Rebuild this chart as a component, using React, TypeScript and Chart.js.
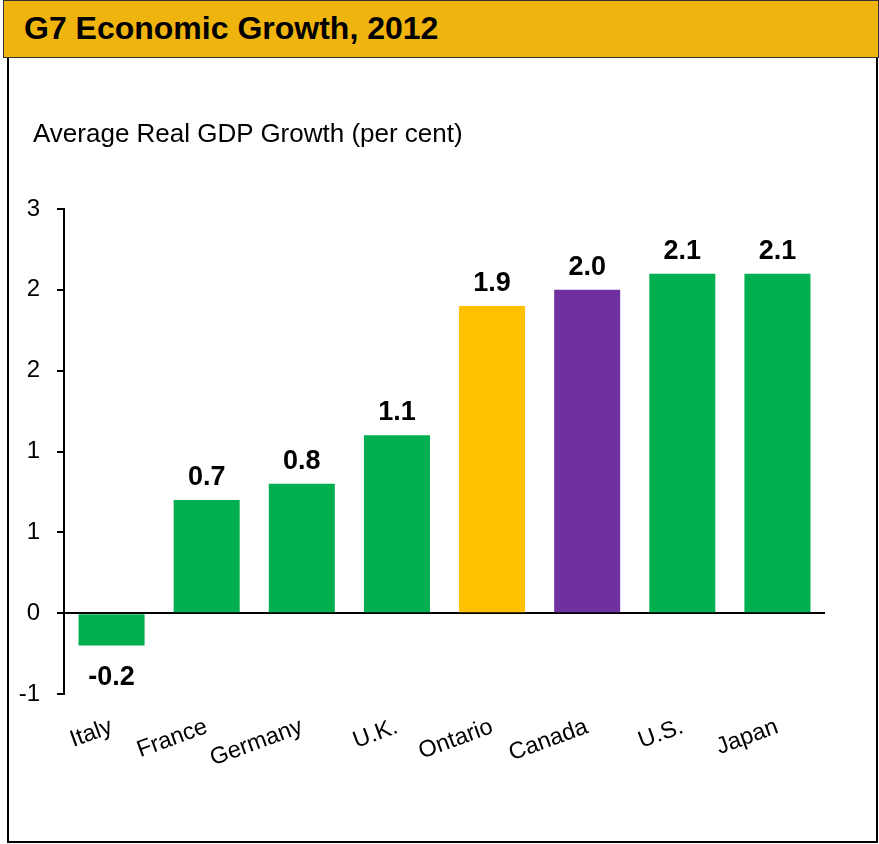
import React, { useEffect, useRef } from "react";
import { Chart, registerables } from "chart.js";

Chart.register(...registerables);

const categories = ["Italy", "France", "Germany", "U.K.", "Ontario", "Canada", "U.S.", "Japan"];
const growth = [-0.2, 0.7, 0.8, 1.1, 1.9, 2.0, 2.1, 2.1];
const barColors = ["#00B050", "#00B050", "#00B050", "#00B050", "#FFC000", "#7030A0", "#00B050", "#00B050"];
const yMin = -0.5;
const yMax = 2.5;
const yStep = 0.5;
const titleText = "G7 Economic Growth, 2012";
const axisTitle = "Average Real GDP Growth (per cent)";

const FONT = "'Liberation Sans', Arial, sans-serif";

const dataLabelPlugin = {
  id: "dataLabels",
  afterDatasetsDraw(chart: any) {
    const ctx = chart.ctx;
    const meta = chart.getDatasetMeta(0);
    ctx.save();
    ctx.font = `bold 27px ${FONT}`;
    ctx.fillStyle = "#000";
    ctx.textAlign = "center";
    ctx.textBaseline = "alphabetic";
    meta.data.forEach((bar: any, i: number) => {
      const v = growth[i];
      const txt = v.toFixed(1);
      if (v >= 0) {
        ctx.fillText(txt, bar.x, bar.y - 15);
      } else {
        ctx.fillText(txt, bar.x, bar.y + 39);
      }
    });
    ctx.restore();
  },
};

export default function App() {
  const canvasRef = useRef<HTMLCanvasElement | null>(null);

  useEffect(() => {
    document.body.style.margin = "0";
    const canvas = canvasRef.current!;
    const chart = new Chart(canvas, {
      type: "bar",
      data: {
        labels: categories,
        datasets: [
          {
            data: growth,
            backgroundColor: barColors,
            borderWidth: 0,
            barPercentage: 0.694,
            categoryPercentage: 1,
          },
        ],
      },
      options: {
        responsive: false,
        animation: false,
        devicePixelRatio: 1,
        layout: { padding: { top: 209, right: 54, bottom: 0, left: 0 } },
        plugins: {
          legend: { display: false },
          tooltip: { enabled: false },
          title: { display: false },
        },
        scales: {
          x: {
            afterFit: (scale: any) => {
              scale.height = 150;
            },
            grid: { display: false, drawTicks: false },
            border: { display: false },
            ticks: {
              autoSkip: false,
              maxRotation: 20,
              minRotation: 20,
              padding: 19,
              color: "#000",
              font: { family: FONT, size: 23.5 },
            },
          },
          y: {
            z: 1,
            min: yMin,
            max: yMax,
            afterFit: (scale: any) => {
              scale.width = 64;
            },
            ticks: {
              stepSize: yStep,
              padding: 17,
              color: "#000",
              font: { family: FONT, size: 24 },
              callback: (v: any) => {
                const n = Number(v);
                const r = Math.sign(n) * Math.round(Math.abs(n));
                return String(r === 0 ? 0 : r);
              },
            },
            grid: {
              drawOnChartArea: true,
              color: (c: any) => (c.tick && c.tick.value === 0 ? "#000" : "rgba(0,0,0,0)"),
              tickColor: "#000",
              tickLength: 7,
              lineWidth: 2,
            },
            border: { display: true, color: "#000", width: 2 },
          },
        },
      },
      plugins: [dataLabelPlugin],
    });
    return () => chart.destroy();
  }, []);

  return (
    <div style={{ position: "relative", width: 879, height: 844, overflow: "hidden", background: "#fff" }}>
      <div
        style={{
          position: "absolute",
          left: 7,
          top: 55,
          width: 871,
          height: 788,
          boxSizing: "border-box",
          border: "2px solid #000",
          background: "#fff",
        }}
      />
      <canvas
        ref={canvasRef}
        width={879}
        height={844}
        style={{ position: "absolute", left: 0, top: 0 }}
      />
      <div
        style={{
          position: "absolute",
          left: 3,
          top: 0,
          width: 876,
          height: 58,
          boxSizing: "border-box",
          border: "1.5px solid #333",
          background: "#F0B40F",
        }}
      />
      <div
        style={{
          position: "absolute",
          left: 24,
          top: 12,
          fontFamily: FONT,
          fontWeight: "bold",
          fontSize: 32,
          lineHeight: "32px",
          color: "#000",
          whiteSpace: "nowrap",
        }}
      >
        {titleText}
      </div>
      <div
        style={{
          position: "absolute",
          left: 33,
          top: 120,
          fontFamily: FONT,
          fontSize: 26,
          lineHeight: "26px",
          color: "#000",
          whiteSpace: "nowrap",
        }}
      >
        {axisTitle}
      </div>
    </div>
  );
}
